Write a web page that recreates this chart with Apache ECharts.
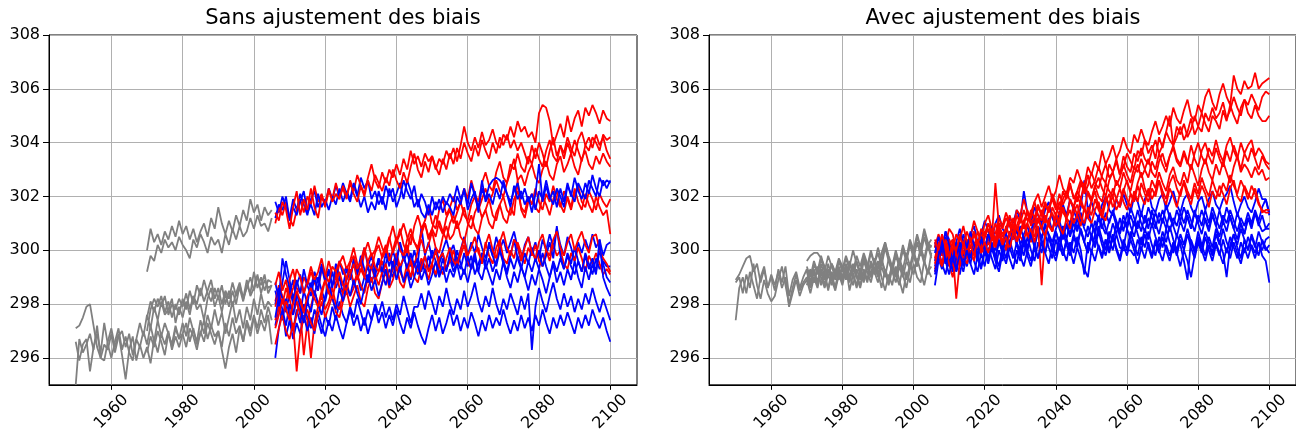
<!DOCTYPE html>
<html>
<head>
<meta charset="utf-8">
<script src="https://cdn.jsdelivr.net/npm/echarts@6/dist/echarts.min.js"></script>
<style>html,body{margin:0;padding:0;background:#fff;}#chart{width:1296px;height:434px;}</style>
</head>
<body>
<div id="chart"></div>
<script>
// ---------- tick labels / titles ----------
const xTicks = [1960, 1980, 2000, 2020, 2040, 2060, 2080, 2100];
const yTicks = [296, 298, 300, 302, 304, 306, 308];
const titles = ['Sans ajustement des biais', 'Avec ajustement des biais'];
const futureStart = 2006;

// ---------- LEFT panel (sans ajustement) ----------
const leftHistStart = [1950, 1950, 1950, 1970, 1970, 1970, 1970, 1970];
const leftHist = [
  [297.1,297.2,297.5,297.9,298.0,297.2,296.4,296.0,296.5,296.3,
   296.9,296.2,296.8,297.0,296.4,296.9,296.1,296.7,297.3,296.8,
   297.6,297.1,297.9,297.4,298.1,297.6,297.8,298.2,297.3,297.9,
   297.5,298.1,297.6,298.3,297.8,298.0,297.4,298.2,298.6,297.9,
   298.3,297.7,298.4,297.9,298.5,298.0,298.7,298.2,298.9,298.3,
   298.6,299.1,298.4,298.9,298.6,298.7],
  [296.6,295.9,296.5,296.7,295.5,296.4,296.9,296.2,297.3,296.5,
   296.0,296.6,297.1,296.3,296.8,296.2,295.9,296.7,296.4,297.0,
   296.5,297.2,296.6,297.4,296.8,297.3,296.9,296.4,297.1,296.7,
   297.3,296.8,297.5,297.0,296.6,297.4,296.9,297.6,297.1,297.8,
   297.2,297.7,296.9,297.5,298.1,297.3,297.8,297.1,297.9,297.4,
   298.2,297.6,298.4,297.8,298.1,297.9],
  [295.0,296.7,296.2,296.5,296.9,296.3,297.2,296.0,295.9,296.6,
   297.1,296.4,296.9,296.1,295.2,296.3,296.8,295.9,296.5,296.0,
   296.4,295.8,296.7,296.2,296.9,296.5,297.0,296.3,296.8,296.4,
   296.9,297.3,296.6,297.1,296.5,296.9,297.4,296.7,297.2,296.8,
   297.0,296.4,297.3,296.8,297.5,296.9,297.2,296.6,297.4,297.0,
   297.6,297.1,297.8,297.3,297.9,297.4],
  [297.5,298.1,297.7,298.2,297.9,298.3,297.6,298.0,297.8,298.2,
   297.9,298.4,297.8,298.3,298.0,298.6,298.1,298.5,298.9,298.2,
   298.6,298.0,298.5,298.2,298.8,298.3,298.6,298.1,298.7,298.4,
   299.2,298.6,299.0,298.5,298.9,298.8],
  [296.2,296.8,296.4,297.0,296.6,296.1,296.9,296.5,297.2,296.7,
   296.9,296.4,297.1,296.8,296.3,297.0,296.6,297.3,296.9,296.5,
   297.0,296.3,295.6,296.4,296.9,296.2,297.1,296.6,297.3,296.8,
   297.5,296.9,297.4,297.0,297.6,296.5],
  [297.0,297.8,298.2,297.9,298.3,297.7,298.1,297.5,298.0,297.6,
   298.2,297.8,298.5,298.0,298.7,298.3,298.9,298.4,298.1,298.6,
   298.2,298.7,298.0,298.5,297.9,298.4,298.8,298.2,298.6,299.0,
   298.5,299.0,298.7,299.1,298.4,298.7],
  [300.0,300.8,300.3,300.6,300.2,300.7,300.4,300.9,300.5,301.1,
   300.6,300.9,300.4,300.8,300.3,300.7,301.0,300.5,301.2,300.8,
   301.6,301.0,300.6,301.1,300.7,301.3,300.9,301.5,301.1,301.9,
   301.4,301.7,301.1,301.6,301.3,301.5],
  [299.2,299.8,299.6,300.2,299.9,300.4,300.1,300.3,300.0,300.5,
   300.2,300.0,299.7,300.4,300.1,300.6,300.3,299.9,300.5,300.2,
   300.4,299.9,300.6,300.2,300.8,300.4,300.9,300.5,300.7,301.2,
   300.8,301.3,300.9,301.0,300.7,301.2]
];
const leftRcp45 = [
  [298.5,297.9,298.8,299.6,298.9,298.2,298.7,299.1,298.4,298.9,
   298.6,299.2,298.8,299.5,298.9,299.3,298.7,299.0,299.6,299.1,
   299.4,298.9,299.7,299.2,299.5,300.1,299.4,299.8,299.2,299.6,
   299.1,299.5,299.9,299.3,299.7,300.2,299.6,299.9,299.4,300.0,
   299.5,300.9,299.8,300.3,299.7,300.1,299.6,300.0,300.4,299.9,
   300.2,299.6,300.0,300.5,299.8,300.3,299.9,300.6,300.1,299.7,
   300.2,299.8,300.5,300.0,300.4,299.9,300.3,300.7,300.1,299.6,
   300.2,300.5,299.9,300.3,299.7,300.4,300.0,300.6,300.1,300.8,
   300.2,299.8,300.5,300.1,299.6,300.3,299.9,300.4,300.0,300.6,
   300.1,300.4,299.8,300.2,300.3],
  [298.0,298.6,298.2,297.7,298.4,298.9,298.1,297.6,298.5,298.0,
   298.8,298.3,299.0,298.5,298.1,298.7,299.2,298.6,299.0,298.4,
   298.9,299.3,298.7,299.1,298.5,299.0,299.4,298.8,299.2,299.7,
   299.1,298.7,299.3,299.0,299.6,299.2,299.8,299.3,298.9,299.5,
   299.1,299.6,299.2,299.8,299.4,299.0,299.5,299.9,299.3,299.7,
   299.2,299.6,299.3,299.9,299.4,299.8,299.1,299.5,299.9,299.3,
   299.7,299.2,299.6,300.0,299.5,299.1,299.7,299.3,299.8,299.4,
   299.0,299.6,299.2,299.7,299.3,299.9,299.4,299.0,299.6,299.2,
   299.7,299.3,299.8,299.4,299.1,299.6,299.2,299.9,299.5,299.1,
   299.7,299.3,299.6,299.4,299.4],
  [297.2,297.9,297.4,298.2,297.6,297.0,297.8,297.3,298.0,297.5,
   297.1,297.8,297.4,296.9,297.6,297.2,297.9,297.4,298.1,297.6,
   297.3,297.9,297.5,298.2,297.7,297.2,297.8,297.4,298.0,297.6,
   298.1,297.5,297.9,297.4,298.0,297.6,298.3,297.8,297.3,297.9,
   297.9,298.4,297.8,298.5,298.1,297.6,298.3,297.9,298.6,298.0,
   297.6,298.2,297.8,298.5,297.9,298.3,298.8,298.1,297.7,298.3,
   297.9,298.6,298.0,297.6,298.2,297.8,298.4,298.0,297.6,298.3,
   297.8,298.4,296.3,297.9,298.6,298.1,297.7,298.3,298.8,298.2,
   297.8,298.4,297.9,298.3,297.7,298.2,297.8,298.4,298.0,298.6,
   298.1,297.7,298.2,297.8,297.4],
  [298.8,298.2,299.7,299.1,298.6,298.0,298.9,298.4,299.3,298.7,
   298.3,299.0,298.5,299.4,298.8,299.2,298.6,299.5,299.0,298.7,
   299.3,298.9,299.6,299.1,299.8,299.3,298.8,299.5,299.0,299.7,
   299.2,299.9,299.4,300.0,299.5,300.3,299.8,299.3,299.9,299.4,
   299.7,299.2,299.8,299.3,300.0,299.6,299.1,299.7,299.2,299.9,
   299.4,300.0,299.5,299.1,299.8,299.3,299.7,299.2,299.9,299.5,
   300.3,299.8,299.4,300.0,299.6,299.2,299.8,300.4,299.7,299.3,
   299.9,299.5,300.1,299.6,300.0,299.4,299.8,300.3,299.7,300.9,
   299.8,299.3,299.9,299.5,300.1,299.6,299.2,299.8,299.3,299.7,
   299.2,300.0,299.5,299.0,298.8],
  [296.0,297.1,297.8,296.8,297.4,296.7,297.3,296.9,297.6,297.0,
   297.5,296.9,297.7,297.2,296.8,297.4,297.0,297.6,297.1,296.7,
   297.3,297.8,297.2,297.6,297.0,297.5,296.9,297.4,297.9,297.3,
   297.7,297.1,297.6,297.2,297.8,297.3,296.9,297.5,297.1,297.7,
   297.2,296.8,296.5,297.1,297.6,297.0,297.5,296.9,297.3,297.8,
   297.2,297.6,297.0,297.5,297.1,297.7,297.3,296.8,297.4,297.0,
   297.6,297.1,297.5,297.2,297.8,297.3,296.9,297.4,297.0,297.6,
   297.1,297.5,297.0,297.6,297.2,297.8,297.3,296.9,297.5,297.1,
   297.6,297.2,297.7,297.3,296.9,297.5,297.1,297.6,297.2,297.8,
   297.4,297.1,297.5,297.0,296.6],
  [297.5,298.3,297.8,297.2,298.0,297.6,298.4,297.9,297.3,298.1,
   297.7,298.5,298.0,297.6,298.3,298.8,298.2,297.8,298.6,298.1,
   298.7,298.3,298.9,298.4,298.0,298.6,299.1,298.5,298.9,298.3,
   298.8,299.3,298.7,299.6,298.9,299.4,298.8,299.2,298.6,299.0,
   299.5,298.9,299.3,298.7,299.1,299.6,299.0,299.4,298.8,299.3,
   299.0,299.5,298.9,299.3,298.8,299.4,299.9,299.2,298.9,299.5,
   299.1,298.7,299.3,298.9,299.6,299.0,298.6,299.2,298.8,299.4,
   299.0,298.5,299.1,298.7,299.3,298.9,298.4,299.0,299.5,298.8,
   299.2,298.7,299.3,298.9,299.6,299.0,298.6,299.4,298.9,299.5,
   299.1,300.4,299.0,298.6,298.3],
  [301.8,301.4,302.0,301.6,301.2,301.9,301.5,302.1,301.7,301.3,
   301.9,302.2,301.6,302.0,301.7,302.3,301.9,302.4,302.0,302.5,
   302.1,301.8,302.4,302.0,302.7,302.3,302.6,301.9,302.2,301.7,
   302.0,301.5,302.3,301.8,302.1,302.5,301.9,302.6,302.2,301.6,
   301.9,301.4,301.2,301.7,301.3,301.8,301.5,302.0,301.7,302.1,
   301.8,302.4,301.9,302.2,301.7,302.5,302.0,301.6,302.3,301.9,
   302.4,302.6,302.7,302.6,302.4,302.1,301.8,302.2,302.5,301.9,
   302.3,301.8,302.1,301.5,302.2,301.9,302.6,302.0,301.7,302.3,
   302.0,301.6,302.4,302.1,301.8,302.5,302.2,301.9,302.6,302.3,
   302.0,302.7,302.4,302.6,302.5],
  [301.2,301.7,301.5,302.0,301.1,301.6,301.3,301.8,302.2,301.4,
   301.7,301.3,302.1,301.6,301.9,301.5,302.0,301.7,302.3,301.8,
   302.2,301.9,302.5,302.1,301.6,302.0,301.4,301.8,301.5,302.2,
   301.7,302.4,302.0,302.3,301.6,302.0,302.6,302.2,301.9,302.4,
   301.6,302.1,301.8,301.3,302.0,301.5,301.9,301.4,301.8,301.6,
   301.3,302.0,301.7,302.3,301.5,301.9,302.2,301.4,302.6,301.8,
   302.1,301.7,302.3,301.9,302.6,302.1,301.6,302.4,301.9,302.2,
   301.7,302.0,301.4,302.1,303.2,301.8,302.4,301.9,302.2,301.6,
   302.3,301.8,302.5,302.0,302.7,302.2,301.9,302.5,302.1,302.8,
   302.3,302.0,302.6,302.3,302.6]
];
const leftRcp85 = [
  [298.1,298.7,298.3,298.0,298.9,299.3,298.6,298.4,299.0,298.7,
   299.2,298.8,298.5,299.3,299.0,299.6,299.1,298.9,299.5,299.8,
   299.3,299.6,300.1,299.5,299.2,299.9,300.3,299.8,300.0,300.5,
   300.1,299.8,300.4,300.9,300.3,300.6,301.0,300.5,300.2,300.9,
   301.3,300.8,301.1,301.6,301.0,300.8,301.5,301.9,301.3,301.6,
   302.0,301.5,301.8,302.3,301.9,302.6,302.1,301.8,302.5,302.9,
   302.4,302.2,302.9,303.3,302.7,302.5,303.2,303.0,303.6,303.1,
   302.9,303.5,303.2,303.8,303.4,303.1,303.7,304.1,303.5,303.3,
   303.9,303.6,304.2,303.8,303.5,304.1,304.4,303.9,303.7,304.2,
   304.0,303.7,304.3,304.1,304.2],
  [297.9,298.4,298.0,298.6,298.2,297.6,298.1,297.7,296.1,297.3,
   297.9,298.5,298.0,298.3,298.9,298.4,298.7,299.2,298.6,298.4,
   299.0,299.3,298.8,299.1,299.6,299.0,298.8,299.4,299.1,298.7,
   299.2,299.5,298.9,299.3,299.8,299.2,298.9,299.5,299.0,299.6,
   299.2,299.7,299.4,298.9,299.5,299.1,299.7,299.9,299.3,299.6,
   300.0,299.4,299.8,300.2,299.6,299.3,299.9,300.1,299.5,300.3,
   299.8,299.5,300.1,300.4,299.7,299.5,300.0,299.7,300.3,299.9,
   299.5,300.1,299.8,300.2,299.6,299.4,300.0,299.6,300.2,299.8,
   300.0,299.5,299.3,299.9,299.6,300.1,299.7,299.2,299.8,299.5,
   299.9,299.5,299.1,299.3,299.1],
  [297.4,297.9,297.5,298.1,297.8,297.0,297.6,298.2,297.7,297.4,
   296.0,297.3,297.9,298.3,297.8,298.1,298.6,298.0,297.8,298.4,
   298.8,298.3,298.6,299.1,298.7,298.4,299.0,299.4,298.9,299.2,
   299.6,299.1,298.9,299.5,299.9,299.4,299.7,300.2,299.6,299.4,
   300.0,300.4,299.9,300.2,300.7,300.1,299.9,300.5,300.9,300.4,
   300.6,301.1,300.5,300.3,300.9,301.3,300.8,300.6,301.2,301.5,
   301.0,300.8,301.4,301.7,301.2,301.0,301.6,301.3,302.6,301.5,
   301.2,301.8,302.1,301.6,301.4,302.0,301.7,301.3,301.9,302.2,
   301.7,301.4,302.0,301.6,302.3,301.8,301.5,302.1,301.7,301.4,
   302.0,301.6,301.3,301.5,300.6],
  [298.7,299.2,298.5,298.9,298.2,298.6,299.3,299.0,298.4,298.8,
   299.4,298.9,299.2,299.7,299.1,298.8,299.4,299.2,299.6,299.3,
   298.9,299.5,299.8,299.3,299.6,300.1,299.5,299.3,299.9,300.2,
   299.7,300.0,300.5,299.9,300.3,300.8,300.2,299.9,300.6,300.3,
   300.1,300.7,301.0,300.4,300.8,300.5,301.1,300.7,300.4,301.0,
   301.3,300.8,301.1,301.6,301.0,300.8,301.4,301.7,301.2,301.5,
   301.9,301.3,301.1,301.7,302.0,301.5,301.3,301.9,302.2,301.6,
   301.4,302.0,301.7,302.3,301.8,301.5,302.1,301.8,302.4,301.9,
   301.6,302.2,301.9,301.5,302.1,302.4,301.8,301.6,302.2,301.9,
   301.5,302.1,301.8,301.6,301.9],
  [296.5,297.1,297.6,297.0,296.7,297.3,295.5,296.9,297.5,297.8,
   297.3,297.0,297.6,298.1,297.5,297.9,298.3,297.7,297.5,298.1,
   298.5,297.9,298.3,298.7,298.1,297.9,298.6,299.0,298.4,298.2,
   298.8,299.2,298.6,298.9,299.4,298.8,298.6,299.2,299.6,299.0,
   298.8,299.4,299.8,299.2,299.5,300.0,299.4,299.1,299.7,300.1,
   299.6,299.4,300.0,300.4,299.8,300.1,300.5,299.9,299.6,300.2,
   300.6,300.0,299.7,300.3,300.7,300.1,299.8,300.4,300.2,299.6,
   300.1,300.5,299.9,299.7,300.3,300.6,300.0,299.8,300.4,300.7,
   300.1,299.8,300.3,300.6,300.0,300.4,300.7,300.2,299.9,300.5,
   300.6,300.0,299.7,299.5,299.2],
  [297.1,297.6,298.2,297.8,297.4,298.0,298.5,298.1,297.7,298.3,
   298.6,298.2,297.9,298.5,298.9,298.4,298.2,298.8,299.2,298.7,
   298.5,299.1,299.5,298.9,299.3,299.0,299.6,299.9,299.4,299.2,
   299.8,300.2,299.6,300.0,300.5,300.0,299.8,300.4,300.8,300.3,
   300.0,300.6,301.0,300.5,300.8,301.3,300.9,300.6,301.2,301.5,
   301.0,301.4,301.8,301.3,301.1,301.7,302.0,301.5,301.9,302.3,
   301.8,302.1,302.6,302.2,302.0,302.5,302.9,303.4,302.6,302.8,
   302.4,302.9,303.2,302.7,302.5,303.0,303.3,302.8,302.6,303.2,
   303.5,302.9,303.2,303.6,303.1,302.8,303.4,303.7,303.2,303.0,
   303.5,303.2,303.6,303.3,303.1],
  [301.0,301.6,301.3,301.8,301.2,300.9,301.5,301.9,301.4,302.0,
   301.7,302.4,301.8,302.1,301.6,302.2,301.9,302.5,302.0,302.3,
   301.9,302.6,302.2,302.8,302.4,302.1,302.7,303.2,302.6,302.3,
   302.9,302.5,303.0,302.7,303.2,302.8,303.4,303.0,303.7,303.2,
   303.5,303.1,303.6,303.3,303.5,303.0,303.4,303.2,303.7,303.4,
   303.8,303.3,303.9,304.6,304.0,303.7,304.2,303.8,304.4,303.9,
   304.1,304.5,304.0,303.8,304.3,304.1,304.6,304.2,304.8,304.4,
   304.6,304.2,304.4,304.0,305.1,305.4,305.3,304.8,303.9,304.3,
   304.7,304.2,305.0,304.4,304.9,305.2,304.6,305.3,305.0,305.4,
   305.1,304.7,305.2,304.9,304.8],
  [301.4,301.1,301.8,301.5,300.8,301.6,302.2,301.3,301.9,301.5,
   302.3,301.6,301.2,302.0,301.7,302.3,301.8,302.1,301.9,302.4,
   302.0,302.5,302.1,301.8,302.4,302.0,302.6,302.2,302.8,302.5,
   302.2,302.7,302.4,303.0,302.6,302.3,302.9,302.5,303.1,303.6,
   303.0,302.7,303.3,302.9,303.5,303.1,302.8,303.4,303.0,303.6,
   303.2,303.8,303.4,304.0,303.6,303.3,303.9,303.5,304.1,303.7,
   303.4,304.0,303.6,304.2,303.9,304.3,303.8,304.1,303.7,304.0,
   303.6,303.2,303.9,303.4,304.0,303.6,303.1,303.7,304.2,303.5,
   303.9,303.4,304.0,303.6,304.1,303.7,303.3,303.9,304.2,303.8,
   304.3,303.9,304.2,303.7,303.4]
];

// ---------- RIGHT panel (avec ajustement) ----------
const rightHistStart = [1950, 1950, 1950, 1970, 1970, 1970, 1970, 1970];
const rightHist = [
  [298.9,299.1,299.4,299.7,299.8,299.2,299.5,298.8,299.3,298.6,
   299.0,298.5,299.3,298.8,299.4,298.3,298.9,299.2,298.6,299.0,
   299.3,298.8,299.5,299.1,299.7,299.2,299.8,299.4,299.0,299.6,
   299.2,299.7,299.3,299.0,299.6,299.2,299.8,299.4,300.0,299.5,
   299.9,299.4,300.1,299.6,299.2,299.8,299.4,300.0,299.6,300.2,
   299.7,300.3,299.8,300.5,300.0,300.2],
  [298.8,299.0,298.4,299.1,298.6,299.5,298.7,298.2,298.9,298.4,
   298.1,298.3,298.9,299.4,298.7,298.0,298.6,299.1,298.5,298.8,
   299.0,298.6,299.2,298.7,299.3,298.9,299.5,299.0,298.6,299.2,
   298.8,299.4,298.9,299.5,299.1,298.7,299.3,298.9,299.6,299.2,
   298.8,299.4,299.0,299.7,299.2,298.8,299.4,299.0,299.6,299.3,
   299.8,299.4,300.0,299.6,299.1,299.9],
  [297.4,298.6,299.0,298.4,299.2,298.7,298.2,299.0,299.4,298.6,
   299.1,298.7,299.2,298.6,299.0,297.9,298.4,298.9,298.3,298.7,
   298.9,298.4,299.0,298.6,299.2,298.7,299.3,298.9,298.5,299.1,
   298.7,299.3,298.8,299.4,299.0,298.6,299.2,298.8,299.5,299.1,
   299.6,299.0,298.5,299.1,298.7,299.4,298.9,298.4,299.2,298.8,
   299.5,299.0,298.8,299.6,299.2,299.4],
  [299.6,299.8,299.9,299.9,299.7,299.4,299.0,299.5,299.1,299.6,
   299.3,299.8,299.4,300.0,299.5,299.1,299.7,299.3,299.9,299.5,
   300.1,299.6,300.3,299.8,299.4,300.0,299.5,300.2,299.7,300.3,
   299.9,300.5,300.0,300.7,300.2,300.4],
  [299.2,298.7,299.3,298.8,299.5,299.0,298.6,299.2,298.9,299.4,
   299.0,299.5,299.1,298.7,299.3,298.9,299.6,299.2,298.8,299.4,
   299.0,299.7,299.2,298.8,299.5,299.1,299.7,299.3,299.9,299.4,
   300.0,299.5,300.1,299.7,300.3,299.8],
  [298.9,299.3,298.8,299.4,298.7,299.2,298.5,299.1,298.6,299.3,
   298.9,299.4,298.5,299.1,298.7,299.3,298.9,299.5,299.0,299.6,
   299.2,298.6,299.3,298.9,299.5,299.1,298.7,299.4,298.9,299.5,
   299.1,299.7,299.2,298.7,299.3,299.0],
  [299.4,299.0,299.6,299.2,299.8,299.3,299.0,299.5,299.2,299.7,
   299.4,299.0,299.6,299.2,299.8,299.4,299.9,299.5,299.1,299.7,
   299.3,299.9,300.3,299.7,299.3,299.9,299.5,300.1,299.7,300.4,
   300.0,300.6,300.1,300.8,300.3,300.1],
  [298.7,299.2,298.8,299.3,299.0,298.6,299.1,298.7,299.3,298.9,
   299.4,298.9,299.5,299.1,298.6,299.2,298.8,299.4,299.0,299.6,
   299.1,299.6,299.2,298.7,299.3,299.0,299.6,299.1,298.6,299.3,
   299.9,299.4,300.0,299.5,300.2,299.7]
];
const rightRcp45 = [
  [300.1,300.5,300.0,300.7,300.4,299.9,300.3,300.8,300.2,300.0,
   300.6,300.9,300.3,300.6,301.1,300.7,300.4,301.0,301.3,300.8,
   300.6,301.2,301.0,301.5,301.1,302.2,301.4,301.0,301.6,301.3,
   301.0,301.5,301.8,301.2,300.9,301.4,301.7,301.3,301.9,301.5,
   301.1,301.6,302.6,301.5,301.8,301.4,301.2,301.7,302.0,301.5,
   301.3,301.9,301.6,302.1,301.7,301.4,302.0,301.8,301.3,301.9,
   302.2,301.6,301.4,301.9,302.1,301.5,301.8,302.2,301.7,301.4,
   301.9,302.1,301.6,301.3,301.8,302.0,301.5,301.9,302.2,301.7,
   301.5,301.9,302.1,302.4,301.8,301.3,301.7,302.0,301.6,301.4,
   301.8,302.3,301.9,301.9,301.4],
  [299.6,300.3,299.8,300.5,299.9,299.3,300.2,299.7,300.4,299.9,
   300.5,300.0,299.6,300.3,299.8,300.4,300.9,300.3,300.7,300.1,
   300.6,300.2,300.8,300.3,300.9,300.4,300.0,300.7,301.2,300.6,
   301.0,300.5,301.2,300.7,301.3,300.8,300.4,301.0,300.6,301.2,
   300.8,301.4,300.9,301.5,301.0,300.6,301.2,300.8,301.4,301.0,
   301.5,301.1,300.7,301.3,300.9,301.6,301.2,300.8,301.4,301.0,
   301.6,301.2,300.8,301.4,301.0,301.7,301.2,300.9,301.5,301.1,
   301.6,301.2,300.8,301.4,301.0,301.5,301.1,300.7,301.3,300.9,
   301.5,301.0,301.6,301.2,300.8,301.4,301.0,300.6,301.2,300.9,
   301.4,301.0,300.7,300.8,300.8],
  [300.3,299.8,300.0,299.5,300.1,299.7,299.2,299.8,299.5,300.1,
   299.8,300.3,300.0,300.5,300.2,299.7,300.2,300.0,300.6,300.3,
   300.1,300.7,300.4,300.8,300.2,300.6,300.9,300.4,301.0,300.7,
   300.5,300.9,300.6,300.3,300.8,301.1,300.6,300.9,300.5,301.0,
   300.7,301.2,300.8,300.5,301.0,300.7,301.3,300.9,300.6,301.1,
   301.4,300.9,300.6,301.1,300.8,301.3,300.9,301.5,301.0,300.7,
   301.2,300.9,301.4,301.0,301.5,301.1,300.7,301.2,300.9,301.4,
   301.0,301.5,301.1,300.7,301.3,300.9,301.5,301.0,301.6,301.2,
   300.8,301.3,301.0,301.5,301.1,300.7,301.2,300.9,301.4,301.0,
   301.5,301.1,301.6,301.9,301.3],
  [299.4,300.0,299.5,299.1,299.8,299.3,300.1,299.6,299.2,299.9,
   299.5,300.2,299.7,299.3,300.0,299.6,300.3,299.8,299.4,300.1,
   299.7,300.4,299.9,299.5,300.2,299.8,300.5,300.0,299.6,300.3,
   299.9,300.6,300.1,299.7,300.4,300.0,300.7,300.2,299.8,300.5,
   300.1,300.8,300.3,299.9,300.6,300.2,300.9,300.4,300.0,300.7,
   300.3,301.0,300.5,300.1,300.8,300.4,301.1,300.6,300.2,300.8,
   300.4,301.0,300.5,300.1,300.7,300.3,300.9,300.4,300.0,300.6,
   300.2,300.8,300.3,299.9,300.5,300.1,300.7,300.3,299.9,300.6,
   300.2,300.8,300.3,300.0,300.6,300.2,300.8,300.4,300.0,300.5,
   300.1,300.7,300.3,300.0,300.2],
  [299.1,299.7,299.3,299.9,299.4,300.0,299.5,299.1,299.8,299.4,
   300.0,299.6,299.2,299.9,299.4,300.1,299.7,299.3,300.0,299.6,
   300.2,299.7,299.3,300.0,299.6,300.3,299.8,299.4,300.1,299.7,
   300.4,299.9,299.5,300.2,299.8,300.5,300.0,299.6,300.3,299.9,
   300.5,300.0,299.1,300.3,299.9,300.6,300.1,299.7,300.4,300.0,
   300.6,300.1,299.7,300.4,300.0,300.7,300.2,299.8,300.5,300.1,
   300.7,300.2,299.8,300.5,300.1,300.8,300.3,299.9,300.6,300.2,
   299.6,298.9,300.4,300.0,300.7,300.2,299.8,300.5,300.1,300.8,
   300.3,299.9,299.0,300.2,300.6,300.1,299.7,300.4,300.0,300.6,
   300.2,299.8,300.4,300.1,299.9],
  [298.7,299.6,300.1,299.5,299.9,299.2,299.7,300.3,299.8,300.2,
   299.7,300.3,299.8,300.5,300.0,300.6,300.1,299.7,300.4,300.0,
   300.6,300.1,300.8,300.3,299.9,300.5,300.1,300.7,300.2,300.9,
   300.4,301.0,300.5,300.1,300.7,300.3,300.9,300.4,301.1,300.6,
   301.2,300.7,300.3,300.9,300.5,301.1,300.6,301.3,300.8,300.4,
   301.0,300.6,301.2,300.7,301.4,300.9,300.5,301.1,300.7,301.3,
   300.8,301.5,301.0,300.6,301.2,300.8,301.4,300.9,300.5,301.1,
   300.7,301.3,300.8,301.5,301.0,300.6,301.2,300.8,301.4,300.9,
   300.5,301.1,300.7,301.3,300.8,300.4,301.0,300.6,301.2,300.8,
   301.4,300.9,301.3,300.8,301.0],
  [299.9,300.5,300.0,300.7,300.2,299.6,300.3,299.9,300.6,300.1,
   300.7,300.2,299.8,300.4,300.0,300.6,300.2,299.7,300.3,299.9,
   300.5,300.1,300.7,300.2,299.8,300.4,300.0,300.6,300.1,300.7,
   300.3,299.9,300.5,300.1,300.7,300.2,299.8,300.4,300.0,300.6,
   300.2,300.8,300.3,299.9,300.5,300.1,300.7,300.2,299.8,300.4,
   300.0,300.6,300.1,300.0,300.0,300.0,299.8,300.4,300.0,300.6,
   300.1,299.7,300.3,299.9,300.5,300.0,299.6,300.2,299.8,300.4,
   300.0,300.6,300.1,299.7,300.3,299.9,300.5,300.0,299.6,300.2,
   299.8,300.4,299.9,300.5,300.1,299.7,300.3,299.9,300.5,300.1,
   299.7,300.3,300.0,300.4,300.5],
  [299.2,299.8,300.4,299.6,299.1,299.7,299.3,299.9,299.4,300.0,
   299.5,299.1,299.8,299.4,300.0,299.5,300.1,299.6,299.2,299.9,
   299.5,300.1,299.7,300.3,299.8,299.4,300.0,299.6,300.2,299.7,
   300.3,299.9,300.5,300.0,299.6,300.2,299.8,300.4,300.0,299.5,
   300.1,299.7,299.3,299.0,300.0,299.6,300.2,299.8,300.4,299.9,
   300.5,300.0,299.6,300.2,299.8,300.4,300.0,299.5,300.1,299.7,
   300.3,299.8,300.4,300.0,299.6,300.2,299.8,300.3,299.9,299.4,
   300.0,299.6,299.0,299.8,300.4,300.0,299.6,300.2,299.8,300.3,
   299.9,299.5,300.1,299.7,300.3,299.9,299.5,300.1,299.7,300.2,
   299.9,300.3,299.8,299.6,298.8]
];
const rightRcp85 = [
  [300.1,300.5,299.9,300.2,300.8,300.6,300.0,300.4,300.9,300.3,
   300.5,301.1,300.7,300.4,301.0,301.3,300.8,300.6,301.2,300.9,
   301.4,301.0,300.8,301.5,301.3,301.9,301.4,301.2,301.8,302.1,
   301.6,302.0,302.4,301.9,302.2,302.8,302.3,302.1,302.7,302.5,
   303.0,302.6,302.4,303.1,302.8,303.3,303.0,303.7,303.2,303.5,
   303.9,303.4,303.7,304.2,303.8,303.6,304.3,304.0,304.5,304.1,
   303.9,304.4,304.8,304.3,304.6,305.0,304.6,305.3,304.9,304.7,
   305.2,305.6,305.0,304.8,305.4,305.1,305.7,306.0,305.5,305.2,
   305.8,306.2,305.7,305.4,306.5,306.0,305.8,306.3,306.0,306.1,
   306.6,306.0,306.2,306.3,306.4],
  [299.7,300.3,300.0,299.6,300.2,300.4,299.9,300.6,300.1,299.8,
   300.4,300.7,300.2,300.0,300.6,301.0,300.5,300.3,300.9,300.6,
   300.8,301.3,300.9,300.6,301.2,300.9,301.5,301.1,301.0,301.6,
   301.3,301.8,301.4,302.1,301.7,301.5,302.2,301.9,302.4,302.0,
   301.8,302.5,302.2,302.8,302.3,302.6,303.1,302.7,302.5,303.2,
   302.9,303.4,302.8,303.1,303.6,303.3,303.0,303.7,303.5,304.1,
   303.6,303.9,303.4,304.2,303.8,304.4,304.1,303.9,304.6,304.3,
   304.7,304.2,304.5,305.0,304.6,304.4,305.1,304.8,305.3,304.9,
   305.1,305.5,304.9,305.2,305.7,305.3,305.0,305.6,305.4,305.8,
   305.5,305.2,305.7,305.9,305.8],
  [300.3,299.9,300.5,300.2,299.5,300.0,300.6,300.3,299.8,300.4,
   300.1,300.6,300.3,299.9,300.5,300.8,300.4,302.5,300.9,300.5,
   300.7,301.1,300.6,300.9,301.3,300.8,301.0,301.5,301.2,301.7,
   301.3,301.0,301.6,301.9,301.5,302.1,301.7,302.0,302.5,301.9,
   302.2,302.6,302.1,302.4,302.9,302.5,302.3,302.8,303.2,302.7,
   302.9,303.3,302.8,303.5,303.1,302.9,303.6,303.3,303.8,303.4,
   303.2,303.7,304.1,303.6,303.9,304.4,305.0,303.9,304.2,304.6,
   304.1,304.4,304.9,304.3,304.6,305.1,304.7,304.4,305.0,304.8,
   304.5,305.2,304.8,305.4,305.0,304.7,305.3,305.6,305.1,304.9,
   305.4,305.0,304.8,304.8,305.0],
  [299.5,300.1,299.8,300.4,299.9,299.4,300.0,299.7,300.3,300.0,
   300.5,300.1,299.8,300.4,300.7,300.2,300.5,301.0,300.6,300.3,
   300.9,300.5,301.2,300.8,300.6,301.1,301.4,300.9,301.3,301.0,
   301.5,301.2,300.9,301.6,301.3,301.8,301.4,301.2,301.9,301.6,
   302.0,301.7,301.5,302.2,301.9,302.4,302.0,301.8,302.5,302.2,
   302.0,302.6,302.3,302.9,302.5,302.2,302.8,303.2,302.7,303.0,
   303.4,302.9,302.7,303.3,303.6,303.1,303.5,303.9,303.4,303.2,
   303.7,303.3,303.0,303.6,304.0,303.5,303.2,303.8,303.5,304.1,
   303.6,303.3,303.9,304.2,303.7,303.4,304.0,303.6,303.9,304.1,
   303.5,303.8,303.6,303.3,303.2],
  [299.2,299.7,299.4,300.0,299.5,299.0,299.6,300.2,299.8,299.5,
   300.0,299.6,300.3,299.9,300.1,300.6,300.0,300.4,300.8,300.3,
   300.1,300.7,300.4,300.9,300.5,300.3,301.0,300.7,300.5,301.2,
   300.8,301.3,300.9,300.7,301.4,301.0,301.6,301.2,301.0,301.7,
   301.3,301.9,301.5,301.2,301.8,302.2,301.6,301.4,302.0,301.7,
   302.3,301.9,301.6,302.2,302.6,302.1,301.9,302.5,302.9,302.3,
   302.0,302.6,302.3,302.9,302.5,302.2,302.8,303.1,302.6,302.4,
   302.9,302.5,303.2,302.8,302.4,303.0,303.4,302.9,302.6,303.2,
   302.8,303.3,302.9,302.5,303.1,303.5,302.9,303.2,303.0,302.7,
   303.1,302.8,303.0,302.6,302.7],
  [300.1,300.6,300.2,299.7,300.4,300.0,298.2,299.6,300.3,299.9,
   300.4,300.1,300.7,300.3,299.9,300.5,300.8,300.2,300.6,300.4,
   300.0,300.6,300.9,300.4,300.7,301.1,300.6,300.3,300.9,301.2,
   300.8,300.5,301.1,301.4,300.9,301.2,301.6,301.1,300.8,301.4,
   301.7,301.2,301.0,301.6,301.3,301.9,301.5,301.2,301.8,302.1,
   301.6,301.9,302.3,301.8,301.5,302.1,301.8,302.4,302.0,301.7,
   302.3,301.9,302.2,302.6,302.0,301.7,302.3,302.0,301.6,302.2,
   302.5,302.0,301.7,302.3,301.9,302.4,302.1,301.6,302.2,301.9,
   302.4,302.1,301.7,302.3,302.6,302.0,301.8,302.4,302.1,301.9,
   302.3,301.8,301.4,301.5,301.5],
  [299.3,299.9,299.5,300.2,299.7,300.3,299.9,299.4,300.0,299.7,
   300.2,299.8,300.4,300.0,300.3,299.9,300.5,300.1,300.6,300.2,
   300.5,300.0,300.7,300.3,300.6,301.0,300.5,300.8,300.3,300.9,
   298.7,300.6,301.0,300.7,301.3,300.9,300.6,301.2,301.5,301.0,
   301.3,300.9,301.6,301.2,301.0,301.5,301.8,301.3,301.1,301.7,
   302.0,301.5,301.8,302.3,301.9,301.6,302.2,301.8,302.5,302.1,
   301.8,302.3,302.0,302.6,302.2,301.9,302.5,302.8,302.3,302.0,
   302.6,302.2,301.9,302.5,302.1,302.7,302.3,302.0,302.6,302.2,
   302.0,302.5,302.2,302.8,302.4,302.1,302.6,302.3,301.9,302.4,
   302.1,301.7,301.5,301.4,301.4],
  [300.4,300.0,300.6,300.1,299.7,300.3,300.0,300.5,300.2,300.7,
   300.3,300.6,300.2,300.8,300.5,301.0,300.7,300.4,301.0,300.8,
   301.2,300.9,300.6,301.3,301.0,301.5,301.1,301.4,301.8,301.3,
   301.1,301.7,301.4,302.0,301.6,301.3,301.9,302.2,301.8,301.6,
   302.2,301.9,302.5,302.1,301.8,302.4,302.7,302.3,302.0,302.6,
   302.9,302.4,302.7,303.2,302.8,302.5,303.1,302.9,303.4,303.0,
   302.7,303.3,303.0,303.6,303.2,302.9,303.5,303.8,303.3,303.1,
   303.6,303.2,303.9,303.4,303.1,303.7,304.0,303.5,303.2,303.8,
   303.4,303.1,303.7,303.3,303.9,303.5,303.0,303.6,303.3,303.8,
   303.4,303.0,303.5,303.2,303.0]
];

// ---------- colours ----------
const histColor = '#808080';
const rcp45Color = '#0000ff';
const rcp85Color = '#ff0000';

// ---------- build ----------
function pairs(values, start) { return values.map((v, i) => [start + i, v]); }

function panelSeries(gi, hist, histStart, r45, r85) {
  const out = [];
  const mk = (data, color) => ({
    type: 'line', xAxisIndex: gi, yAxisIndex: gi, data: data,
    showSymbol: false, symbol: 'none', silent: true,
    lineStyle: { color: color, width: 1.8 }, itemStyle: { color: color },
    clip: true, animation: false
  });
  for (let m = 0; m < hist.length; m++) {
    out.push(mk(pairs(hist[m], histStart[m]), histColor));
    out.push(mk(pairs(r45[m], futureStart), rcp45Color));
    out.push(mk(pairs(r85[m], futureStart), rcp85Color));
  }
  return out;
}

const font = 'DejaVu Sans';
function xAxisCfg(gi) {
  return {
    type: 'value', gridIndex: gi, min: 1942.5, max: 2107.5,
    axisLine: { show: true, lineStyle: { color: '#000', width: 1 } },
    axisTick: { show: true, length: 5, lineStyle: { color: '#000', width: 1 }, customValues: xTicks },
    axisLabel: { show: true, customValues: xTicks, rotate: 45, align: 'center', verticalAlign: 'middle',
      margin: 27, fontSize: 16, fontFamily: font, color: '#000', formatter: v => String(v) },
    splitLine: { show: true, lineStyle: { color: '#b0b0b0', width: 1 } }
  };
}
function yAxisCfg(gi) {
  return {
    type: 'value', gridIndex: gi, min: 295, max: 308,
    axisLine: { show: true, lineStyle: { color: '#000', width: 1 } },
    axisTick: { show: true, length: 6, lineStyle: { color: '#000', width: 1 }, customValues: yTicks },
    axisLabel: { show: true, customValues: yTicks, margin: 9, fontSize: 16, fontFamily: font,
      color: '#000', formatter: v => String(v) },
    splitLine: { show: true, lineStyle: { color: '#b0b0b0', width: 1 } }
  };
}

const chart = echarts.init(document.getElementById('chart'), null, { renderer: 'canvas' });
chart.setOption({
  animation: false,
  backgroundColor: '#fff',
  grid: [
    { left: 49, top: 35, width: 588, height: 352, show: true, borderColor: '#000', borderWidth: 1, backgroundColor: 'transparent', containLabel: false },
    { left: 709, top: 35, width: 588, height: 352, show: true, borderColor: '#000', borderWidth: 1, backgroundColor: 'transparent', containLabel: false }
  ],
  xAxis: [xAxisCfg(0), xAxisCfg(1)],
  yAxis: [yAxisCfg(0), yAxisCfg(1)],
  graphic: [
    { type: 'text', x: 343, y: 8, style: { text: titles[0], font: '21px "DejaVu Sans"', fill: '#000', align: 'center', textAlign: 'center', verticalAlign: 'top', textVerticalAlign: 'top' } },
    { type: 'text', x: 1003, y: 8, style: { text: titles[1], font: '21px "DejaVu Sans"', fill: '#000', align: 'center', textAlign: 'center', verticalAlign: 'top', textVerticalAlign: 'top' } }
  ],
  series: [].concat(
    panelSeries(0, leftHist, leftHistStart, leftRcp45, leftRcp85),
    panelSeries(1, rightHist, rightHistStart, rightRcp45, rightRcp85)
  )
});
</script>
</body>
</html>
